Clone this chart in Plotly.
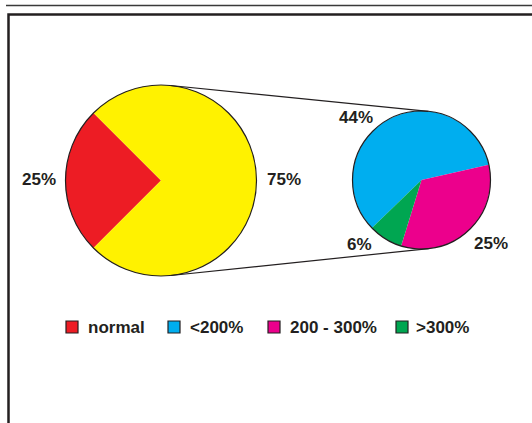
import math
import plotly.graph_objects as go

# ---- data ----------------------------------------------------------------
main_labels = ["normal", "elevated"]
normal_share = 25                      # % of cases with normal values
sub_labels = ["<200%", "200 - 300%", ">300%"]
sub_values = [44, 25, 6]               # % of all cases, split of the elevated group
legend_labels = ["normal", "<200%", "200 - 300%", ">300%"]

# ---- styling --------------------------------------------------------------
RED, YELLOW, BLUE, PINK, GREEN = "#ed1c24", "#fff200", "#00aeef", "#ec008c", "#00a651"
INK = "#231f20"
legend_colors = [RED, BLUE, PINK, GREEN]
FONT = "Liberation Sans, Arial, sans-serif"

W, H = 532, 423


def px(x):
    return x / W


def py(y):
    return 1 - y / H


# geometry of the two pies (pixel centre and radius)
big_c, big_r = (161.0, 180.5), 95.5
small_c, small_r = (421.5, 180.0), 69.0


def domain(c, r):
    return dict(x=[px(c[0] - r), px(c[0] + r)], y=[py(c[1] + r), py(c[1] - r)])


elevated_total = sum(sub_values)

fig = go.Figure()

fig.add_trace(go.Pie(
    labels=main_labels,
    values=[normal_share, elevated_total],
    marker=dict(colors=[RED, YELLOW], line=dict(width=0)),
    sort=False, direction="clockwise", rotation=225,
    textinfo="none", hoverinfo="label+value", showlegend=False,
    domain=domain(big_c, big_r),
))

fig.add_trace(go.Pie(
    labels=sub_labels,
    values=sub_values,
    marker=dict(colors=[BLUE, PINK, GREEN], line=dict(width=0)),
    sort=False, direction="clockwise", rotation=-134,
    textinfo="none", hoverinfo="label+value", showlegend=False,
    domain=domain(small_c, small_r),
))

shapes = []

# outer page rule and framed panel
shapes.append(dict(type="line", xref="paper", yref="paper",
                   x0=px(6), x1=px(W + 2), y0=py(5.5), y1=py(5.5),
                   line=dict(color="#3a3a3a", width=1.5)))
shapes.append(dict(type="rect", xref="paper", yref="paper",
                   x0=px(8.5), x1=px(W + 20), y0=py(14.5), y1=py(H + 20),
                   line=dict(color=INK, width=2.5), fillcolor="rgba(0,0,0,0)"))

# circle outlines of both pies
for c, r in [(big_c, big_r), (small_c, small_r)]:
    shapes.append(dict(type="circle", xref="paper", yref="paper",
                       x0=px(c[0] - r), x1=px(c[0] + r),
                       y0=py(c[1] + r), y1=py(c[1] - r),
                       line=dict(color=INK, width=1.2)))

# outer tangent lines joining the two pies
dx, dy = small_c[0] - big_c[0], small_c[1] - big_c[1]
d = math.hypot(dx, dy)
ux, uy = dx / d, dy / d
s = (big_r - small_r) / d
cth = math.sqrt(1 - s * s)
for sign in (-1, 1):
    # unit normal from centre to tangent point
    nx = s * ux - sign * cth * uy
    ny = s * uy + sign * cth * ux
    shapes.append(dict(type="line", xref="paper", yref="paper",
                       x0=px(big_c[0] + big_r * nx), y0=py(big_c[1] + big_r * ny),
                       x1=px(small_c[0] + small_r * nx), y1=py(small_c[1] + small_r * ny),
                       line=dict(color=INK, width=1.2)))

# legend swatches
legend_x = [66, 168, 268, 396]
legend_text_x = [86, 188, 288, 414]
legend_y = 327
sw = 12
for x, col in zip(legend_x, legend_colors):
    shapes.append(dict(type="rect", xref="paper", yref="paper",
                       x0=px(x), x1=px(x + sw), y0=py(legend_y + sw / 2), y1=py(legend_y - sw / 2),
                       line=dict(color=INK, width=1.2), fillcolor=col))

annotations = []
label_font = dict(family=FONT, size=17, color=INK, weight="bold")

# percentage labels around the pies
pie_label_values = [normal_share, elevated_total] + sub_values
pie_label_pos = [(39, 180), (284, 179), (356, 118), (491, 243), (359.5, 245)]
# the order above: normal, elevated, <200%, 200-300%, >300%
for v, (x, y) in zip(pie_label_values, pie_label_pos):
    annotations.append(dict(xref="paper", yref="paper", x=px(x), y=py(y),
                            text=f"{v}%", showarrow=False, xanchor="center", yanchor="middle",
                            font=label_font))

for x, lab in zip(legend_text_x, legend_labels):
    annotations.append(dict(xref="paper", yref="paper", x=px(x), y=py(legend_y),
                            text=lab, showarrow=False, xanchor="left", yanchor="middle",
                            font=label_font))

fig.update_layout(
    width=W, height=H,
    margin=dict(l=0, r=0, t=0, b=0),
    paper_bgcolor="white", plot_bgcolor="white",
    shapes=shapes, annotations=annotations,
    showlegend=False,
)

fig.write_html("out.html")
